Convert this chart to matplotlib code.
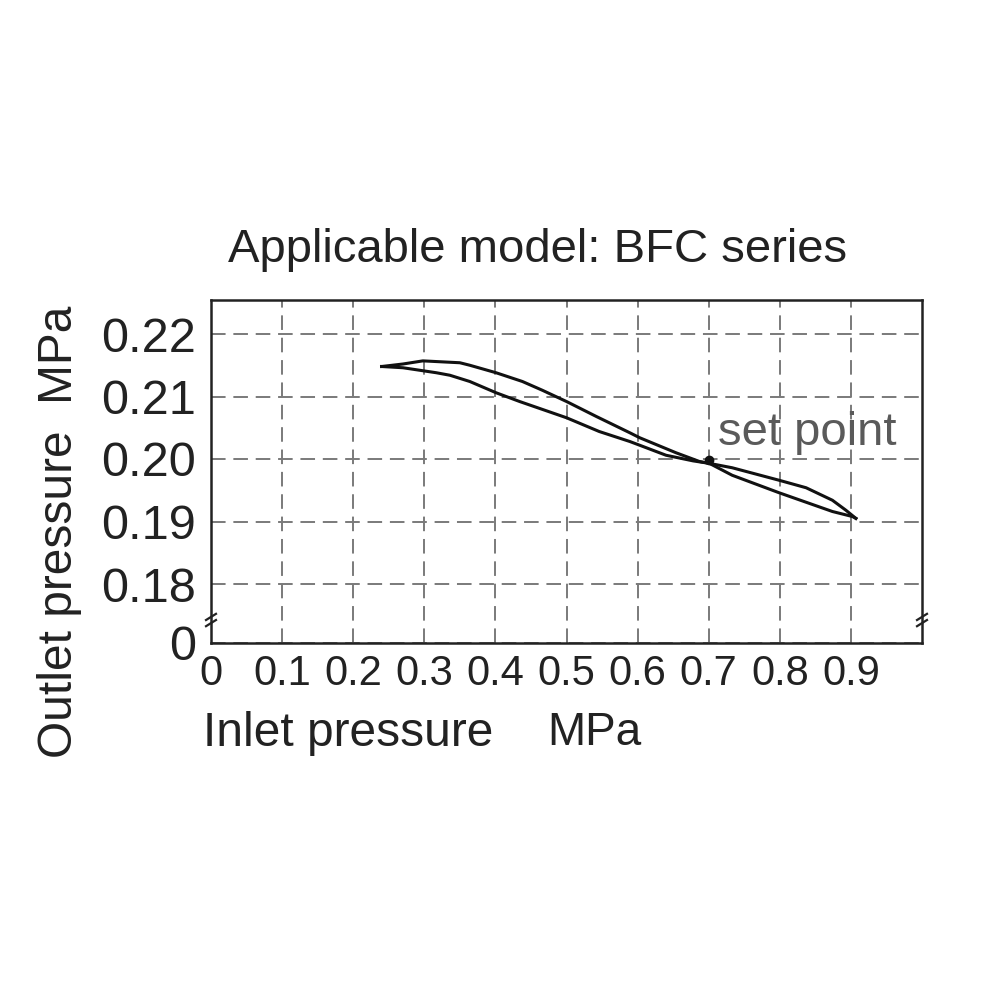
import matplotlib
matplotlib.use('Agg')
import matplotlib.pyplot as plt

plt.rcParams['font.family'] = ['Liberation Sans', 'DejaVu Sans']

# curve (inlet MPa, outlet MPa)
inlet_upper = [0.240, 0.270, 0.298, 0.350, 0.364, 0.401, 0.438, 0.466, 0.500,
               0.542, 0.589, 0.603, 0.654, 0.687, 0.701, 0.733, 0.799, 0.837,
               0.874, 0.893, 0.907]
outlet_upper = [0.2148, 0.2152, 0.2157, 0.2154, 0.2150, 0.2138, 0.2124, 0.2110,
                0.2092, 0.2068, 0.2042, 0.2034, 0.2010, 0.1996, 0.1993, 0.1986,
                0.1966, 0.1954, 0.1934, 0.1918, 0.1905]

inlet_lower = [0.240, 0.270, 0.317, 0.336, 0.364, 0.401, 0.434, 0.500, 0.546,
               0.589, 0.603, 0.640, 0.678, 0.701, 0.733, 0.799, 0.874, 0.902,
               0.907]
outlet_lower = [0.2148, 0.2146, 0.2138, 0.2134, 0.2124, 0.2106, 0.2092, 0.2066,
                0.2044, 0.2028, 0.2022, 0.2006, 0.1997, 0.1993, 0.1974, 0.1946,
                0.1916, 0.1908, 0.1905]

set_point = (0.70, 0.1998)

x_ticks = [0, 0.1, 0.2, 0.3, 0.4, 0.5, 0.6, 0.7, 0.8, 0.9]
x_labels = ['0', '0.1', '0.2', '0.3', '0.4', '0.5', '0.6', '0.7', '0.8', '0.9']
y_bottom = 0.17056
y_ticks = [y_bottom, 0.18, 0.19, 0.20, 0.21, 0.22]
y_labels = ['0', '0.18', '0.19', '0.20', '0.21', '0.22']

fig = plt.figure(figsize=(10, 10), dpi=100)
ax = fig.add_axes([0.211, 0.357, 0.711, 0.343])

ax.plot(inlet_upper, outlet_upper, color='#111111', linewidth=2.2, zorder=3)
ax.plot(inlet_lower, outlet_lower, color='#111111', linewidth=2.2, zorder=3)
ax.plot(*set_point, 'o', color='#111111', markersize=6, zorder=4)

ax.set_xlim(0, 1.0)
ax.set_ylim(y_bottom, 0.22544)
ax.set_xticks(x_ticks)
ax.set_xticklabels(x_labels, fontsize=30, color='#222222')
ax.set_yticks(y_ticks)
ax.set_yticklabels(y_labels, fontsize=35, color='#222222')
ax.tick_params(axis='x', length=0, pad=8)
ax.tick_params(axis='y', length=0, pad=11)

ax.grid(True, color='#7a7a7a', linewidth=1.4, linestyle=(0, (7.5, 4)))
for s in ax.spines.values():
    s.set_linewidth(1.8)
    s.set_color('#222222')

# axis break marks
for xb in (0.0, 1.0):
    for dy in (-0.009, 0.009):
        ax.plot([xb - 0.007, xb + 0.007], [0.058 + dy, 0.076 + dy],
                transform=ax.transAxes, color='#222222', linewidth=1.6,
                clip_on=False, zorder=5)

ax.text(0.713, 0.2022, 'set point', fontsize=34, color='#5a5a5a')

fig.text(0.538, 0.75, 'Applicable model: BFC series', ha='center', va='center',
         fontsize=34, color='#222222')
fig.text(0.203, 0.267, 'Inlet pressure', ha='left', va='center',
         fontsize=34.5, color='#222222')
fig.text(0.547, 0.267, 'MPa', ha='left', va='center',
         fontsize=33, color='#222222')
fig.text(0.060, 0.468, 'Outlet pressure  MPa', ha='center', va='center',
         rotation=90, fontsize=34.5, color='#222222')

plt.savefig('out.png', dpi=100, facecolor='white')
plt.close()
